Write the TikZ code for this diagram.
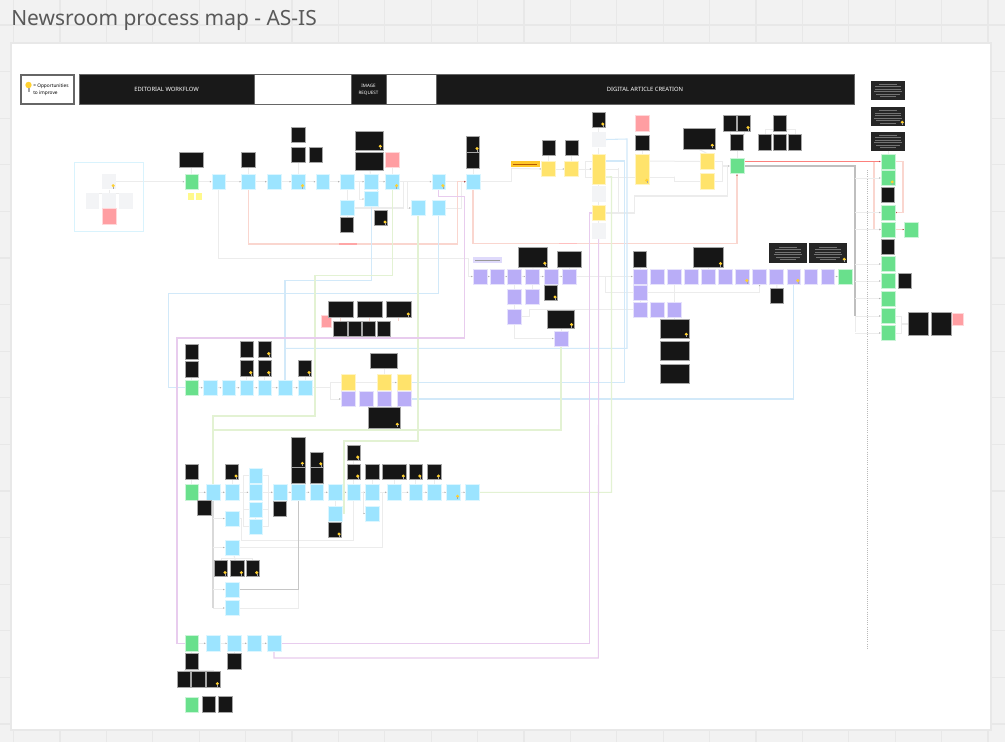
\documentclass[tikz,border=0pt]{standalone}
\usepackage{fontspec}
\setmainfont{Noto Sans}
\usetikzlibrary{arrows.meta,positioning,calc,backgrounds}
\definecolor{sheet}{HTML}{F2F2F2}
\definecolor{gridcol}{HTML}{E8E8E8}
\definecolor{boxblue}{HTML}{9CE4FF}
\definecolor{boxgreen}{HTML}{69E08C}
\definecolor{boxpurple}{HTML}{B9ADF7}
\definecolor{boxyellow}{HTML}{FFE36B}
\definecolor{boxred}{HTML}{FF9EA2}
\definecolor{boxgray}{HTML}{F3F4F6}
\definecolor{boxblack}{HTML}{161616}
\definecolor{bulbcol}{HTML}{FFD02F}
\definecolor{linered}{HTML}{FAD6CF}
\definecolor{lineblue}{HTML}{D2E9F9}
\definecolor{linegreen}{HTML}{E3F2D3}
\definecolor{linepurple}{HTML}{E8CCEE}
\definecolor{linepale}{HTML}{ECECEC}
\tikzset{
  box/.style={inner sep=0pt, minimum width=10.4pt, minimum height=11.6pt},
  wd/.style={minimum width=#1*0.75pt},
  ht/.style={minimum height=#1*0.75pt},
  bluebox/.style={box, fill=boxblue, draw=boxblue!35, line width=0.4pt},
  greenbox/.style={box, fill=boxgreen, draw=boxgreen!35, line width=0.4pt},
  purplebox/.style={box, fill=boxpurple, draw=boxpurple!35, line width=0.4pt},
  yellowbox/.style={box, fill=boxyellow, draw=boxyellow!40, line width=0.4pt},
  redbox/.style={box, fill=boxred, draw=boxred!40, line width=0.4pt},
  graybox/.style={box, fill=boxgray},
  blackbox/.style={box, fill=boxblack, draw=gray!70, line width=0.5pt},
  headbox/.style={box, fill=black!90, draw=black!60, line width=0.7pt, text=white, ht=30, font=\bfseries\fontsize{4.4}{5}\selectfont, align=center},
  paleline/.style={draw=linepale, line width=0.75pt, -{Latex[length=1.2pt,width=1.2pt,color=gray!60]}},
  plainline/.style={draw=linepale, line width=0.75pt},
  redline/.style={draw=linered, line width=0.8pt, -{Latex[length=1.2pt,width=1.2pt,color=red!40!gray]}},
  blueline/.style={draw=lineblue, line width=0.8pt},
  greenline/.style={draw=linegreen, line width=0.8pt},
  purpleline/.style={draw=linepurple, line width=0.8pt},
}
\newcommand{\bulb}[1]{%
  \fill[bulbcol] ([shift={(-3,-4)}]#1.south east) circle (1.7);
  \draw[gray!70, line width=0.3pt] ([shift={(-3,-3)}]#1.south east) -- ([shift={(-3,-1)}]#1.south east);
}
\begin{document}
\begin{tikzpicture}[x=0.75pt, y=-0.75pt, >=Latex]
    \useasboundingbox (0,0) rectangle (1005,742);
    \begin{scope}[on background layer]
    \fill[sheet] (0,0) rectangle (1005,742);
    \foreach \i in {0,...,21} \draw[gridcol, line width=0.8pt] (13.6+46.4*\i,0) -- (13.6+46.4*\i,742);
    \foreach \i in {0,...,15} \draw[gridcol, line width=0.8pt] (0,25+46.6*\i) -- (1005,25+46.6*\i);
    \fill[white, draw=gridcol, line width=1.2pt] (11,43) rectangle (991,730);
    \end{scope}
    \node[anchor=west, text=black!65, font=\fontsize{15.7}{18}\selectfont, inner sep=0pt] (title) at (11,20.5) {Newsroom process map - AS-IS};

    % header band
    \node[box, draw=black!60, line width=0.8pt, fill=white, wd=53, ht=29] (legend) at (47.5,89.5) {};
    \node[anchor=west, inner sep=0pt, align=left, font=\bfseries\fontsize{3.6}{5}\selectfont] (legendtxt) at (33,89.5) {= Opportunities\\to improve};
    \fill[bulbcol] (28.5,85) circle (3.2);
    \fill[gray!70] (27.5,88) rectangle (29.5,92);
    \node[headbox, wd=175] (headedit) at (166.5,89.5) {EDITORIAL WORKFLOW};
    \node[box, draw=black!60, line width=0.7pt, fill=white, wd=97, ht=30] (headgapA) at (302.5,89.5) {};
    \node[headbox, wd=35, font=\bfseries\fontsize{3.4}{5}\selectfont] (headimg) at (368.5,89.5) {IMAGE\\REQUEST};
    \node[box, draw=black!60, line width=0.7pt, fill=white, wd=50, ht=30] (headgapB) at (411,89.5) {};
    \node[headbox, wd=418] (headdig) at (645,89.5) {DIGITAL ARTICLE CREATION};

    % source cluster
    \draw[cyan!15, line width=0.9pt] (74.3,162.3) rectangle (143.7,231.7);
    \foreach \n/\x/\y in {gyT/109/181.7,gyL/92.5/201,gyM/109/201,gyR/125.7/201,gyA/598.7/139.5,gyB/598.7/194,gyC/598.7/231}
        \node[graybox] (\n) at (\x,\y) {};
    \foreach \n/\x/\y in {noteA/191/196.3,noteB/199/196.3}
        \node[box, fill=yellow!45, minimum width=4.5pt, minimum height=5pt] (\n) at (\x,\y) {};

    % blue steps
    \foreach \x [count=\i] in {218.7,248.3,274,298.3,322.7,347,371.3,392.3,438.7,473}
        \node[bluebox] (eA\i) at (\x,181.7) {};
    \foreach \n/\x/\y in {eBrA/371.3/199,eBrB/347/208,eBrC/418/208,eBrD/438.7/208}
        \node[bluebox] (\n) at (\x,\y) {};
    \foreach \x [count=\i] in {210,228.7,246.7,264.7,285,305}
        \node[bluebox] (eC\i) at (\x,387.7) {};
    \foreach \x [count=\i] in {213,232,255.7,280,298.3,316.7,335,353.7,372.3,394,415.7,434.3,453.3,472.3}
        \node[bluebox] (eD\i) at (\x,492.3) {};
    \foreach \n/\x/\y in {colA/255.7/475.5,colC/255.7/509.5,colD/255.7/526.5,eDlA/232/518.5,eDlB/232/547.5,eDlC/232/589.5,eDlD/232/608,eDbA/335/513.5,eDbB/372.3/513.5}
        \node[bluebox] (\n) at (\x,\y) {};
    \foreach \x [count=\i] in {213,234.3,254,274}
        \node[bluebox] (eE\i) at (\x,643.3) {};

    % purple steps
    \foreach \x [count=\i] in {480,497,514.6,532.6,551,569.5}
        \node[purplebox] (pA\i) at (\x,276.5) {};
    \foreach \x [count=\i] in {640,657,674.5,691.5,708.5,725.5,742.6,759.6,776.6,793.7,810.7,827.7}
        \node[purplebox] (pB\i) at (\x,276.5) {};
    \foreach \n/\x/\y in {pLA/514.6/296.5,pLB/532.6/296.5,pLC/514.6/316.5,pEnd/561/338.5,pK/640/293,pMA/640/309.5,pMB/657/309.5,pMC/674.5/309.5,pUA/348/399,pUB/366/399,pUC/384/399,pUD/404/399}
        \node[purplebox] (\n) at (\x,\y) {};
    \node[box, fill=boxpurple!45, wd=29, ht=6] (barP) at (487.5,260) {};
    \draw[gray!80, line width=0.6pt] ([xshift=2pt]barP.west) -- ([xshift=-2pt]barP.east);

    % yellow steps
    \foreach \n/\x/\y/\h in {yA/548.6/169/15.5,yB/571.6/169/15.5,yC/598.7/169/30,yD/598.7/213/15.5,yE/642.5/169/30,yF/707/161.5/15.5,yG/707/181.5/15.5,yH/348/382.5/15.5,yI/384/382.5/15.5,yJ/404/382.5/15.5}
        \node[yellowbox, ht=\h] (\n) at (\x,\y) {};
    \node[box, fill=bulbcol!90!orange, wd=29, ht=6] (barY) at (525,164) {};
    \draw[orange!70!black, line width=0.6pt] ([xshift=2pt]barY.west) -- ([xshift=-2pt]barY.east);

    % green steps
    \foreach \n/\x/\y in {gA/191.7/181.7,gB/845/276.5,gC/191.7/387.7,gD/191.7/492.3,gE/191.7/643.3,gF/191.7/704.5,gFin/737/166,gSide/911.5/229.5,R1/888/161.5,R2/888/178,R4/888/212.5,R5/888/229.5,R7/888/264,R8/888/281,R9/888/298.5,R10/888/316,R11/888/333}
        \node[greenbox] (\n) at (\x,\y) {};

    % red boxes
    \foreach \n/\x/\y/\w/\h in {rA/109/216.5/14/15.5,rB/392.3/160/13.5/15.5,rC/642.5/123.5/13.5/15.5,rD/326/321/10/12,rE/957.5/319/11/12}
        \node[redbox, wd=\w, ht=\h] (\n) at (\x,\y) {};

    % black boxes
    \foreach \n/\x/\y/\w/\h in {bA/191/160/24/15.5,bB/248.3/160/13.5/15.5,bC/298.3/135/13.5/15.5,bD/298.3/155/13.5/15.5,bE/316/155/13.5/15.5,bF/369/140.5/28/19,bG/369/161/28/18,bH/347/225/13.5/15.5,bI/381/218/13.5/15.5,bJ/473/144.5/13.5/15.5,bK/473/160.5/13.5/15.5,%
        bL/548.6/148/13.5/15.5,bM/571.6/148/13.5/15.5,bN/598.7/120/13.5/15.5,bO/642.5/143/13.5/15.5,bP/699/138.5/32/21,bQ/730/123.5/13.5/15.5,bR/744/123.5/13.5/15.5,bS/737/142.5/13.5/15.5,bT/780/123.5/13.5/15.5,bU/765/142.5/13.5/15.5,bV/780/142.5/13.5/15.5,bW/795/142.5/13.5/15.5,%
        bX/533/257/29/20,bY/569.5/259/23.5/16,bZ/551/293/13.5/15.5,cA/561/319.5/26.5/17.5,cB/640/259/13.5/16,cC/708.5/257.5/29.5/19.5,cD/777/296/13.5/15.5,cE/674.5/328.5/29/19,cF/674.5/351/29/19,cG/674.5/374/29/19,%
        R3/888/195/13.5/15.5,R6/888/247/13.5/15.5,cH/905/281/13.5/15.5,bigA/918/324/20/23,bigB/941/324/20/23,%
        dA/340.5/309.5/25/16.5,dB/369.5/309.5/25/16.5,dC/398.5/309.5/25/16.5,dD/340.5/329/13.5/15.5,dE/354.7/329/13.5/15.5,dF/369/329/13.5/15.5,dG/384/329/13.5/15.5,%
        fA/191.7/352/13.5/15.5,fB/191.7/369.5/13.5/15.5,fC/246.7/349.5/13.5/15.5,fD/264.7/349.5/13.5/15.5,fE/246.7/368.5/13.5/15.5,fF/264.7/368.5/13.5/15.5,fG/305/368.5/13.5/15.5,fH/384/360.5/26.5/15,fI/384/417.5/32/21,%
        hA/191.7/472/13.5/15.5,hB/232/472/13.5/15.5,hC/204.3/508/13.5/15.5,hD/280/509/13.5/15.5,hE/298.3/452/13.5/30,hF/298.3/475.5/13.5/15.5,hG/316.7/459.7/13.5/15.5,hH/316.7/475.5/13.5/15.5,hI/353.7/453/13.5/15.5,hJ/353.7/472/13.5/15.5,hK/372.3/472/13.5/15.5,hL/394/472/24/15.5,hM/415.7/472/13.5/15.5,hN/434.3/472/13.5/15.5,hO/335/530/13.5/15.5,%
        kA/221/568.5/13.5/15.5,kB/237.3/568.5/13.5/15.5,kC/252.7/568.5/13.5/15.5,mA/191.7/661.5/13.5/15.5,mB/234.3/661.5/13.5/15.5,mC/184/679.5/13.5/15.5,mD/198.3/679.5/13.5/15.5,mE/213.3/679.5/13.5/15.5,mF/208.7/704.5/13.5/15.5,mG/225.3/704.5/13.5/15.5}
        \node[blackbox, wd=\w, ht=\h] (\n) at (\x,\y) {};

    % dark boxes with small print
    \foreach \n/\x/\y/\w/\h in {zA/888/90/34/19,zB/888/116.5/34/19,zC/888/141/34/19,zD/788/253/38/20,zE/828/253/38/20}{
        \node[box, fill=black!85, wd=\w, ht=\h] (\n) at (\x,\y) {};
        \foreach \d/\l in {-6/9,-3.5/13,-1/13,1.5/14,4/12,6.5/8}
            \draw[black!55, line width=0.45pt] ([shift={(-\l,\d)}]\n.center) -- ([shift={(\l,\d)}]\n.center);
    }

    % bulbs
    \foreach \n in {gyT,eA4,bF,eA8,eA9,bI,bJ,bN,yE,bP,bR,bX,bZ,cA,cC,pB7,pB10,zE,R2,zB,dC,fD,fE,fF,fG,fI,hB,hE,hG,hJ,hI,hL,hM,hN,eD13,hO,kA,kB,kC,mE,cE}{
        \bulb{\n}
    }

    \begin{scope}[on background layer]
    % chains
    \draw[paleline] (gyT.east) -- (gA.west);
    \draw[paleline] (gA.east) -- (eA1.west);
    \foreach \a/\b in {1/2,2/3,3/4,4/5,5/6,6/7,7/8,8/9,9/10}
        \draw[paleline] (eA\a.east) -- (eA\b.west);
    \draw[paleline] (gC.east) -- (eC1.west);
    \foreach \a/\b in {1/2,2/3,3/4,4/5,5/6}
        \draw[paleline] (eC\a.east) -- (eC\b.west);
    \draw[paleline] (gD.east) -- (eD1.west);
    \foreach \a/\b in {1/2,4/5,5/6,6/7,7/8,8/9,9/10,10/11,11/12,12/13,13/14}
        \draw[paleline] (eD\a.east) -- (eD\b.west);
    \draw[paleline] (gE.east) -- (eE1.west);
    \foreach \a/\b in {1/2,2/3,3/4}
        \draw[paleline] (eE\a.east) -- (eE\b.west);
    \foreach \a/\b in {1/2,2/3,3/4,4/5,5/6}
        \draw[paleline] (pA\a.east) -- (pA\b.west);
    \draw[paleline] (pA6.east) -- (pB1.west);
    \draw[paleline] (pB12.east) -- (gB.west);

    % short links
    \foreach \a/\b in {bA/gA,bB/eA2,bD/eA4,bG/eA7,rB/eA8,bK/eA10,eA6/eBrB,eBrB/bH,bL/yA,bM/yB,bN/gyA,gyA/yC,yC/gyB,gyB/yD,yD/gyC,bO/yE,bS/gFin,bX/pA4,bY/pA6,cB/pB1,cC/pB5,pB1/pK,pK/pMA,pB3/pMC,pMC/cE,pA3/pLA,pLA/pLC,pA4/pLB,cA/pEnd,pB9/cD,zC/R1,fB/gC,fE/eC3,fF/eC4,fG/eC6,fH/yI,yI/pUC,pUC/fI,hA/gD,hB/eD2,hF/eD5,hH/eD6,hJ/eD8,hK/eD9,hL/eD10,hM/eD11,hN/eD12,eD7/eDbA,eDbA/hO,eDlB/kB,gE/mA,eE2/mB,mA/mD,colA/eD3,colC/colD,hE/hF,hG/hH,hI/hJ,gyT/gyM,gyM/rA}
        \draw[plainline] (\a) -- (\b);
    \foreach \a in {gyL,gyR}
        \draw[plainline] ([yshift=-3pt]gyT.south) -| (\a.north);
    \foreach \a in {mC,mE}
        \draw[plainline] ([yshift=-1pt]mA.south) -| (\a.north);
    \foreach \a in {kA,kC}
        \draw[plainline] ([yshift=-2.5pt]eDlB.south) -| (\a.north);
    \foreach \a in {bU,bW}
        \draw[plainline] ([yshift=1.5pt]bT.south) -| (\a.north);
    \draw[plainline] (bQ.south) |- (bS.north);
    \draw[plainline] (bR.south) |- (bS.north);
    \draw[plainline] (bP.south) -- (yF.north);
    \foreach \a in {dA,dB,dC}
        \draw[plainline, draw=linered] (\a.south) -- (\a.south |- dE.north);

    % first row branches
    \coordinate (tapA) at (359.3,181.7);
    \coordinate (tapB) at (377.7,188);
    \coordinate (tapC) at (403.3,181.7);
    \coordinate (tapD) at (407.3,181.7);
    \coordinate (tapE) at (461.7,181.7);
    \draw[paleline] (tapA) |- (eBrA.west);
    \draw[plainline] (eBrA.east) -| (tapB);
    \draw[paleline] (tapD) |- (eBrC.west);
    \draw[plainline, line width=1pt] (eBrB.east) -| (tapC);
    \draw[plainline] (eBrD.east) -| (tapE);

    % yellow branches
    \coordinate (barFoot) at (511,168.3);
    \coordinate (tapF) at (585.3,169);
    \coordinate (tapG) at (618.3,168);
    \coordinate (tapH) at (674.3,176.7);
    \coordinate (tapI) at (722.3,161.5);
    \coordinate (tapJ) at (727.3,165.7);
    \draw[plainline] (eA10.east) -| (barFoot);
    \draw[paleline] (barFoot) -- (yA.west);
    \draw[paleline] (yA.east) -- (yB.west);
    \draw[paleline] (yB.east) -- (yC.west);
    \draw[plainline] ([yshift=6pt]yC.west) -| (tapF) |- ([yshift=-6pt]yC.west);
    \draw[plainline] ([yshift=6pt]yE.east) -- (yF.west);
    \draw[plainline] (yC.east) -| (tapG) |- (yD.east);
    \draw[plainline] ([yshift=-6pt]yC.east) -| (tapH) |- (yG.west);
    \draw[plainline] (yF.east) -| (tapI) |- (yG.east);
    \draw[paleline, line width=1.2pt] (tapI |- gFin.west) -- (gFin.west);
    \draw[plainline, line width=1.1pt] (tapJ) |- (634.3,196) |- (yD.east);

    % purple branches
    \coordinate (tapP) at (605,276.5);
    \draw[paleline] (tapP) |- (759.6,292) -- (pB8.south);
    \draw[plainline] (pLC.east) -- (529,316.5) |- (pMA.west);
    \draw[paleline] (pLC.south) |- (pEnd.west);
    \draw[plainline] (pB3.south) -- (pMC.north);

    % third row fork
    \coordinate (forkC) at (330.3,387.7);
    \draw[plainline, line width=1pt] (eC6.east) -- (forkC);
    \draw[plainline] (forkC) |- (yH.west);
    \draw[paleline] (forkC) |- (pUA.west);
    \draw[plainline] (yH.east) -- (yI.west);
    \draw[paleline] (yI.east) -- (yJ.west);

    % fourth row fork and lower loops
    \coordinate (forkD) at (243,492.3);
    \coordinate (forkE) at (268,492.3);
    \coordinate (spineD) at (213,608);
    \coordinate (tapK) at (363.3,492.3);
    \draw[paleline] (eD2.east) -- (eD3.west);
    \draw[paleline] (eD3.east) -- (eD4.west);
    \foreach \a in {colA,colC,colD}{
        \draw[plainline] (forkD) |- (\a.west);
        \draw[plainline] (\a.east) -| (forkE);
    }
    \draw[plainline, draw=gray!30, line width=1.2pt] (eD1.south) -- (spineD);
    \draw[paleline] (eD1.south |- eDlA.west) -- (eDlA.west);
    \draw[paleline] (eD1.south |- eDlB.west) -- (eDlB.west);
    \draw[paleline] (eD1.south |- eDlC.west) -- (eDlC.west);
    \draw[paleline] (spineD) -- (eDlD.west);
    \draw[plainline] (eDlA.east) -- (241.7,518.5) |- (353.7,540.3) -- (eD8.south);
    \draw[plainline] (eDlB.east) -| (382.3,492.3) -- (eD9.east);
    \draw[plainline, draw=gray!45] (eDlC.east) -| (eD5.south);
    \draw[plainline] (eDlD.east) -| (298.3,589.5);
    \draw[paleline] (tapK) |- (eDbB.west);

    % long coloured routes
    \draw[paleline] (eA1.south) |- (468.3,258.3) |- (pA1.west);
    \draw[redline] (eA2.south) |- (457.7,244) |- (eA10.west);
    \draw[draw=red!35, line width=1pt] (339,244) -- (357,244);
    \draw[redline] (eA10.south) |- (737,243.7) -- (gFin.south);
    \draw[draw=red!25, line width=1pt] (559,243.7) -- (577,243.7);
    \draw[redline, draw=red!40!linered] (gFin.east |- R1.west) -- (R1.west);
    \draw[redline] (874,161.5) |- (R5.west);
    \draw[redline] (R1.east) -| (903,212.5) -- (R4.east);
    \draw[redline] (R5.east) -- (gSide.west);

    \draw[blueline] (eBrD.south) |- (168.3,293.5) |- (gC.west);
    \draw[blueline] (eBrA.south) -- (371.3,280.3) -| (eC5.north);
    \coordinate (blueTap) at (285,348.3);
    \draw[blueline] (blueTap) -| (627,139) -- (gyA.east);
    \draw[blueline] (yJ.east) -| (624.7,161) -- ([yshift=6pt]yC.east);
    \draw[blueline] (pUD.east) -| (pB10.south);

    \draw[greenline] (eA8.south) |- (315,275.3) |- (213,416) -- (eD1.north);
    \draw[greenline] (eBrC.south) |- (344,441) |- (eDbA.east);
    \draw[greenline] (pEnd.south) |- (213,430) -- (eD1.north);
    \draw[greenline] (eD14.east) -| (611.5,176.7) -- ([yshift=-6pt]yC.east);

    \draw[purpleline] (eA9.south) |- (464.3,196.6) |- (177,338) |- (gE.west);
    \draw[purpleline] (eE4.east) -| (589.3,213) -- (yD.west);
    \draw[purpleline] (eE4.south) |- (598.3,658) -- (gyC.south);

    % closing spine
    \coordinate (spine) at (855,166);
    \draw[draw=gray!50, line width=1.2pt] (gFin.east) -| (855,316);
    \draw[plainline] (855,316) -- (855,332);
    \foreach \n in {R2,R4,R5,R7,R8,R9,R10,R11}
        \draw[paleline] (spine |- \n.west) -- (\n.west);
    \draw[plainline] (R10.east) -| (901,333) -- (R11.east);
    \draw[plainline, line width=1.4pt] (901,324) -- (bigA.west);
    \coordinate (dotTop) at (867.7,170);
    \coordinate (dotBot) at (867.7,648);
    \draw[gray!55, densely dotted, line width=0.6pt] (dotTop) -- (dotBot);
    \end{scope}
\end{tikzpicture}
\end{document}
